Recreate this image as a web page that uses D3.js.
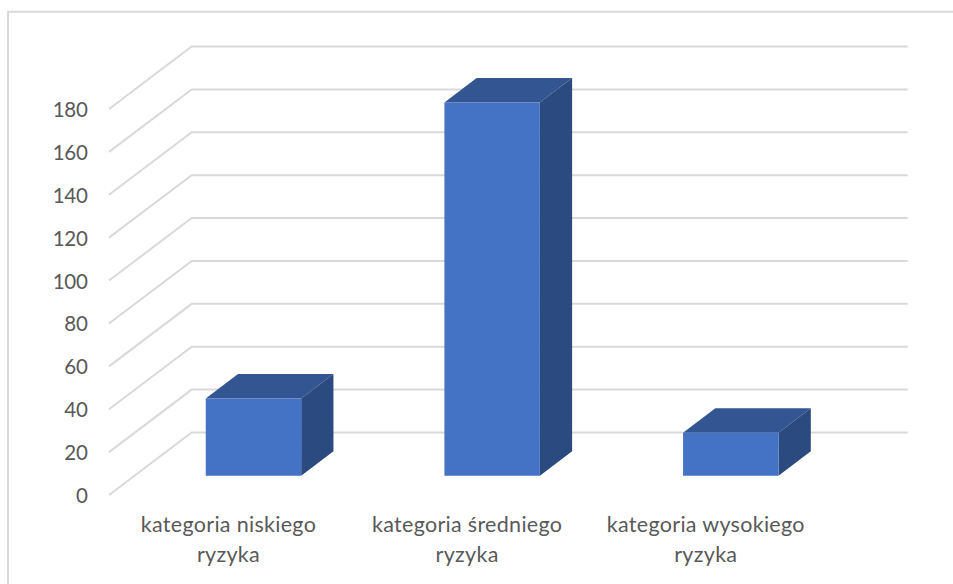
<!DOCTYPE html>
<html><head><meta charset="utf-8">
<script src="https://cdn.jsdelivr.net/npm/d3@7/dist/d3.min.js"></script>
<style>html,body{margin:0;padding:0;background:#fff}svg{display:block}</style>
</head><body><div id="chart"></div>
<script>
const categories = [["kategoria niskiego","ryzyka"],["kategoria średniego","ryzyka"],["kategoria wysokiego","ryzyka"]];
const values = [36, 174, 20];
const ticks = [0,20,40,60,80,100,120,140,160,180];

const W=953,H=584;
const svg=d3.select("#chart").append("svg").attr("width",W).attr("height",H);
const y=d3.scaleLinear().domain([0,180]).range([495,109]);
const x=d3.scaleBand().domain(d3.range(categories.length)).range([108.5,824.5]).paddingInner(0.6).paddingOuter(0.3);
const DX=82.7, DY=-62.5, D0=0.31, D1=0.70;
const grid="#d9d9d9", txt="#595959", font="Lato, Carlito, sans-serif";

const line=d3.line();
svg.append("path").attr("d",line([[8,H],[8,11.7],[W,11.7]])).attr("fill","none").attr("stroke",grid).attr("stroke-width",2);

const proj=(xv,yv,d)=>[xv+DX*d, yv+DY*d];
svg.append("g").selectAll("path").data(ticks).join("path")
  .attr("d",t=>line([proj(109,y(t),0),proj(109,y(t),1),proj(825,y(t),1)]))
  .attr("fill","none").attr("stroke",grid).attr("stroke-width",2);

svg.append("g").selectAll("text").data(ticks).join("text")
  .attr("x",87.5).attr("y",t=>y(t)+8).attr("text-anchor","end")
  .attr("font-family",font).attr("font-size",20.5).attr("letter-spacing",-0.3).attr("fill",txt).text(t=>t);

const bars=svg.append("g").selectAll("g").data(values).join("g");
const poly=pts=>line(pts)+"Z";
bars.append("path").attr("fill","#335592").attr("d",(v,i)=>{const a=x(i),b=a+x.bandwidth(),t=y(v);
  return poly([proj(a,t,D0),proj(b,t,D0),proj(b,t,D1),proj(a,t,D1)]);});
bars.append("path").attr("fill","#2a4a80").attr("d",(v,i)=>{const b=x(i)+x.bandwidth(),t=y(v),z=y(0);
  return poly([proj(b,t,D0),proj(b,t,D1),proj(b,z,D1),proj(b,z,D0)]);});
bars.append("path").attr("fill","#4472c4").attr("d",(v,i)=>{const a=x(i),b=a+x.bandwidth(),t=y(v),z=y(0);
  return poly([proj(a,t,D0),proj(b,t,D0),proj(b,z,D0),proj(a,z,D0)]);});

svg.append("g").selectAll("text").data(categories).join("text")
  .attr("font-family",font).attr("font-size",21.5).attr("letter-spacing",0.3).attr("fill",txt).attr("text-anchor","middle")
  .each(function(c,i){
    const cx=x(i)+x.bandwidth()/2+DX*D0-25;
    d3.select(this).selectAll("tspan").data(c).join("tspan")
      .attr("x",cx).attr("y",(d,j)=>532+j*30).text(d=>d);
  });
</script></body></html>
